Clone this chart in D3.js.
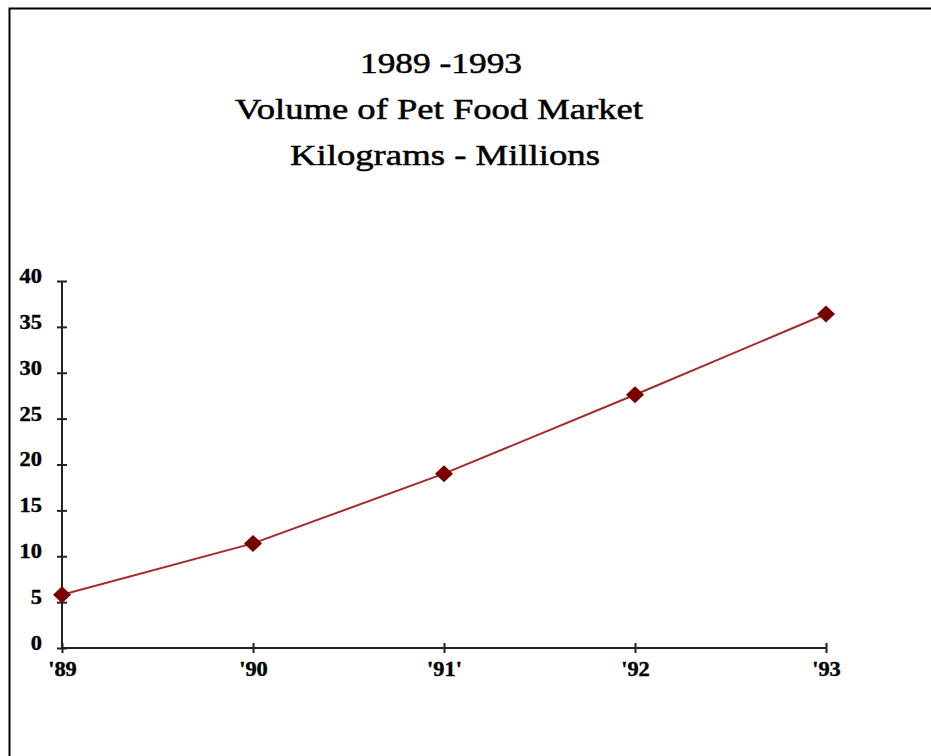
<!DOCTYPE html>
<html>
<head>
<meta charset="utf-8">
<script src="https://cdn.jsdelivr.net/npm/d3@7"></script>
<style>
  html, body { margin: 0; padding: 0; background: #fff; }
  svg { display: block; }
</style>
</head>
<body>
<script>
// Pet food market volume, millions of kilograms
const years = ["'89", "'90", "'91'", "'92", "'93"];
const volume = [5.8, 11.4, 19.0, 27.6, 36.4];
const yTicks = [0, 5, 10, 15, 20, 25, 30, 35, 40];
const titleLines = ["1989 -1993", "Volume of Pet Food Market", " Kilograms - Millions"];

const W = 931, H = 756;
const svg = d3.select("body").append("svg").attr("width", W).attr("height", H);

// frame (open to the right and bottom)
svg.append("path")
  .attr("d", `M9.5,${H} V8.5 H${W}`)
  .attr("fill", "none").attr("stroke", "#000").attr("stroke-width", 2);

// title block
const titleY = [73, 119, 165];
const titleW = [162, 408, 310];
const titleX = [441, 439, 445];
svg.selectAll("text.title").data(titleLines).join("text")
  .attr("class", "title")
  .attr("x", (d, i) => titleX[i])
  .attr("y", (d, i) => titleY[i])
  .attr("text-anchor", "middle")
  .attr("textLength", (d, i) => titleW[i])
  .attr("lengthAdjust", "spacingAndGlyphs")
  .style("font-family", "'Liberation Serif', 'DejaVu Serif', serif")
  .style("font-size", "29px")
  .style("fill", "#000")
  .style("stroke", "#000")
  .style("stroke-width", "0.5px")
  .text(d => d.trim());

const x = d3.scalePoint().domain(years).range([62, 826]);
const y = d3.scaleLinear().domain([0, 40]).range([648, 281]);

const axisColor = "#222";
const labelFont = "'Liberation Serif', 'DejaVu Serif', serif";
const stretch = 1.12;

// y axis
const gy = svg.append("g").attr("transform", "translate(62,0)")
  .call(d3.axisLeft(y).tickValues(yTicks).tickSize(5).tickPadding(0).tickFormat(d3.format("d")));
gy.select(".domain").remove();
gy.selectAll(".tick line").attr("x1", -5).attr("x2", 5).attr("stroke", axisColor).attr("stroke-width", 2);
gy.selectAll(".tick text")
  .attr("x", -20 / stretch).attr("y", 0).attr("dy", "0.32em")
  .attr("transform", `translate(0,-5) scale(${stretch},1)`)
  .style("font-family", labelFont).style("font-weight", "bold").style("font-size", "20px")
  .style("stroke", "#000").style("stroke-width", "0.4px")
  .attr("fill", "#000");
svg.append("line").attr("x1", 62).attr("x2", 62).attr("y1", y(40)).attr("y2", y(0))
  .attr("stroke", axisColor).attr("stroke-width", 2);

// x axis
const gx = svg.append("g").attr("transform", `translate(0,${y(0)})`)
  .call(d3.axisBottom(x).tickSize(5).tickPadding(0));
gx.select(".domain").remove();
gx.selectAll(".tick line").attr("y1", -5).attr("y2", 5).attr("stroke", axisColor).attr("stroke-width", 2);
gx.selectAll(".tick text")
  .attr("y", 28).attr("dy", 0)
  .attr("transform", `scale(${stretch},1)`)
  .style("font-family", labelFont).style("font-weight", "bold").style("font-size", "20px")
  .style("stroke", "#000").style("stroke-width", "0.4px")
  .attr("fill", "#000");
svg.append("line").attr("x1", x(years[0])).attr("x2", x(years[years.length - 1]))
  .attr("y1", y(0)).attr("y2", y(0))
  .attr("stroke", axisColor).attr("stroke-width", 2);

// series line
const pts = years.map((k, i) => [x(k), y(volume[i])]);
svg.append("path")
  .attr("d", d3.line()(pts))
  .attr("fill", "none").attr("stroke", "#a52a2a").attr("stroke-width", 2);

// diamond markers
svg.selectAll("path.marker").data(pts).join("path")
  .attr("class", "marker")
  .attr("transform", d => `translate(${d[0]},${d[1]})`)
  .attr("d", "M0,-8.5 L9,0 L0,8.5 L-9,0 Z")
  .attr("fill", "#7a0000");
</script>
</body>
</html>
